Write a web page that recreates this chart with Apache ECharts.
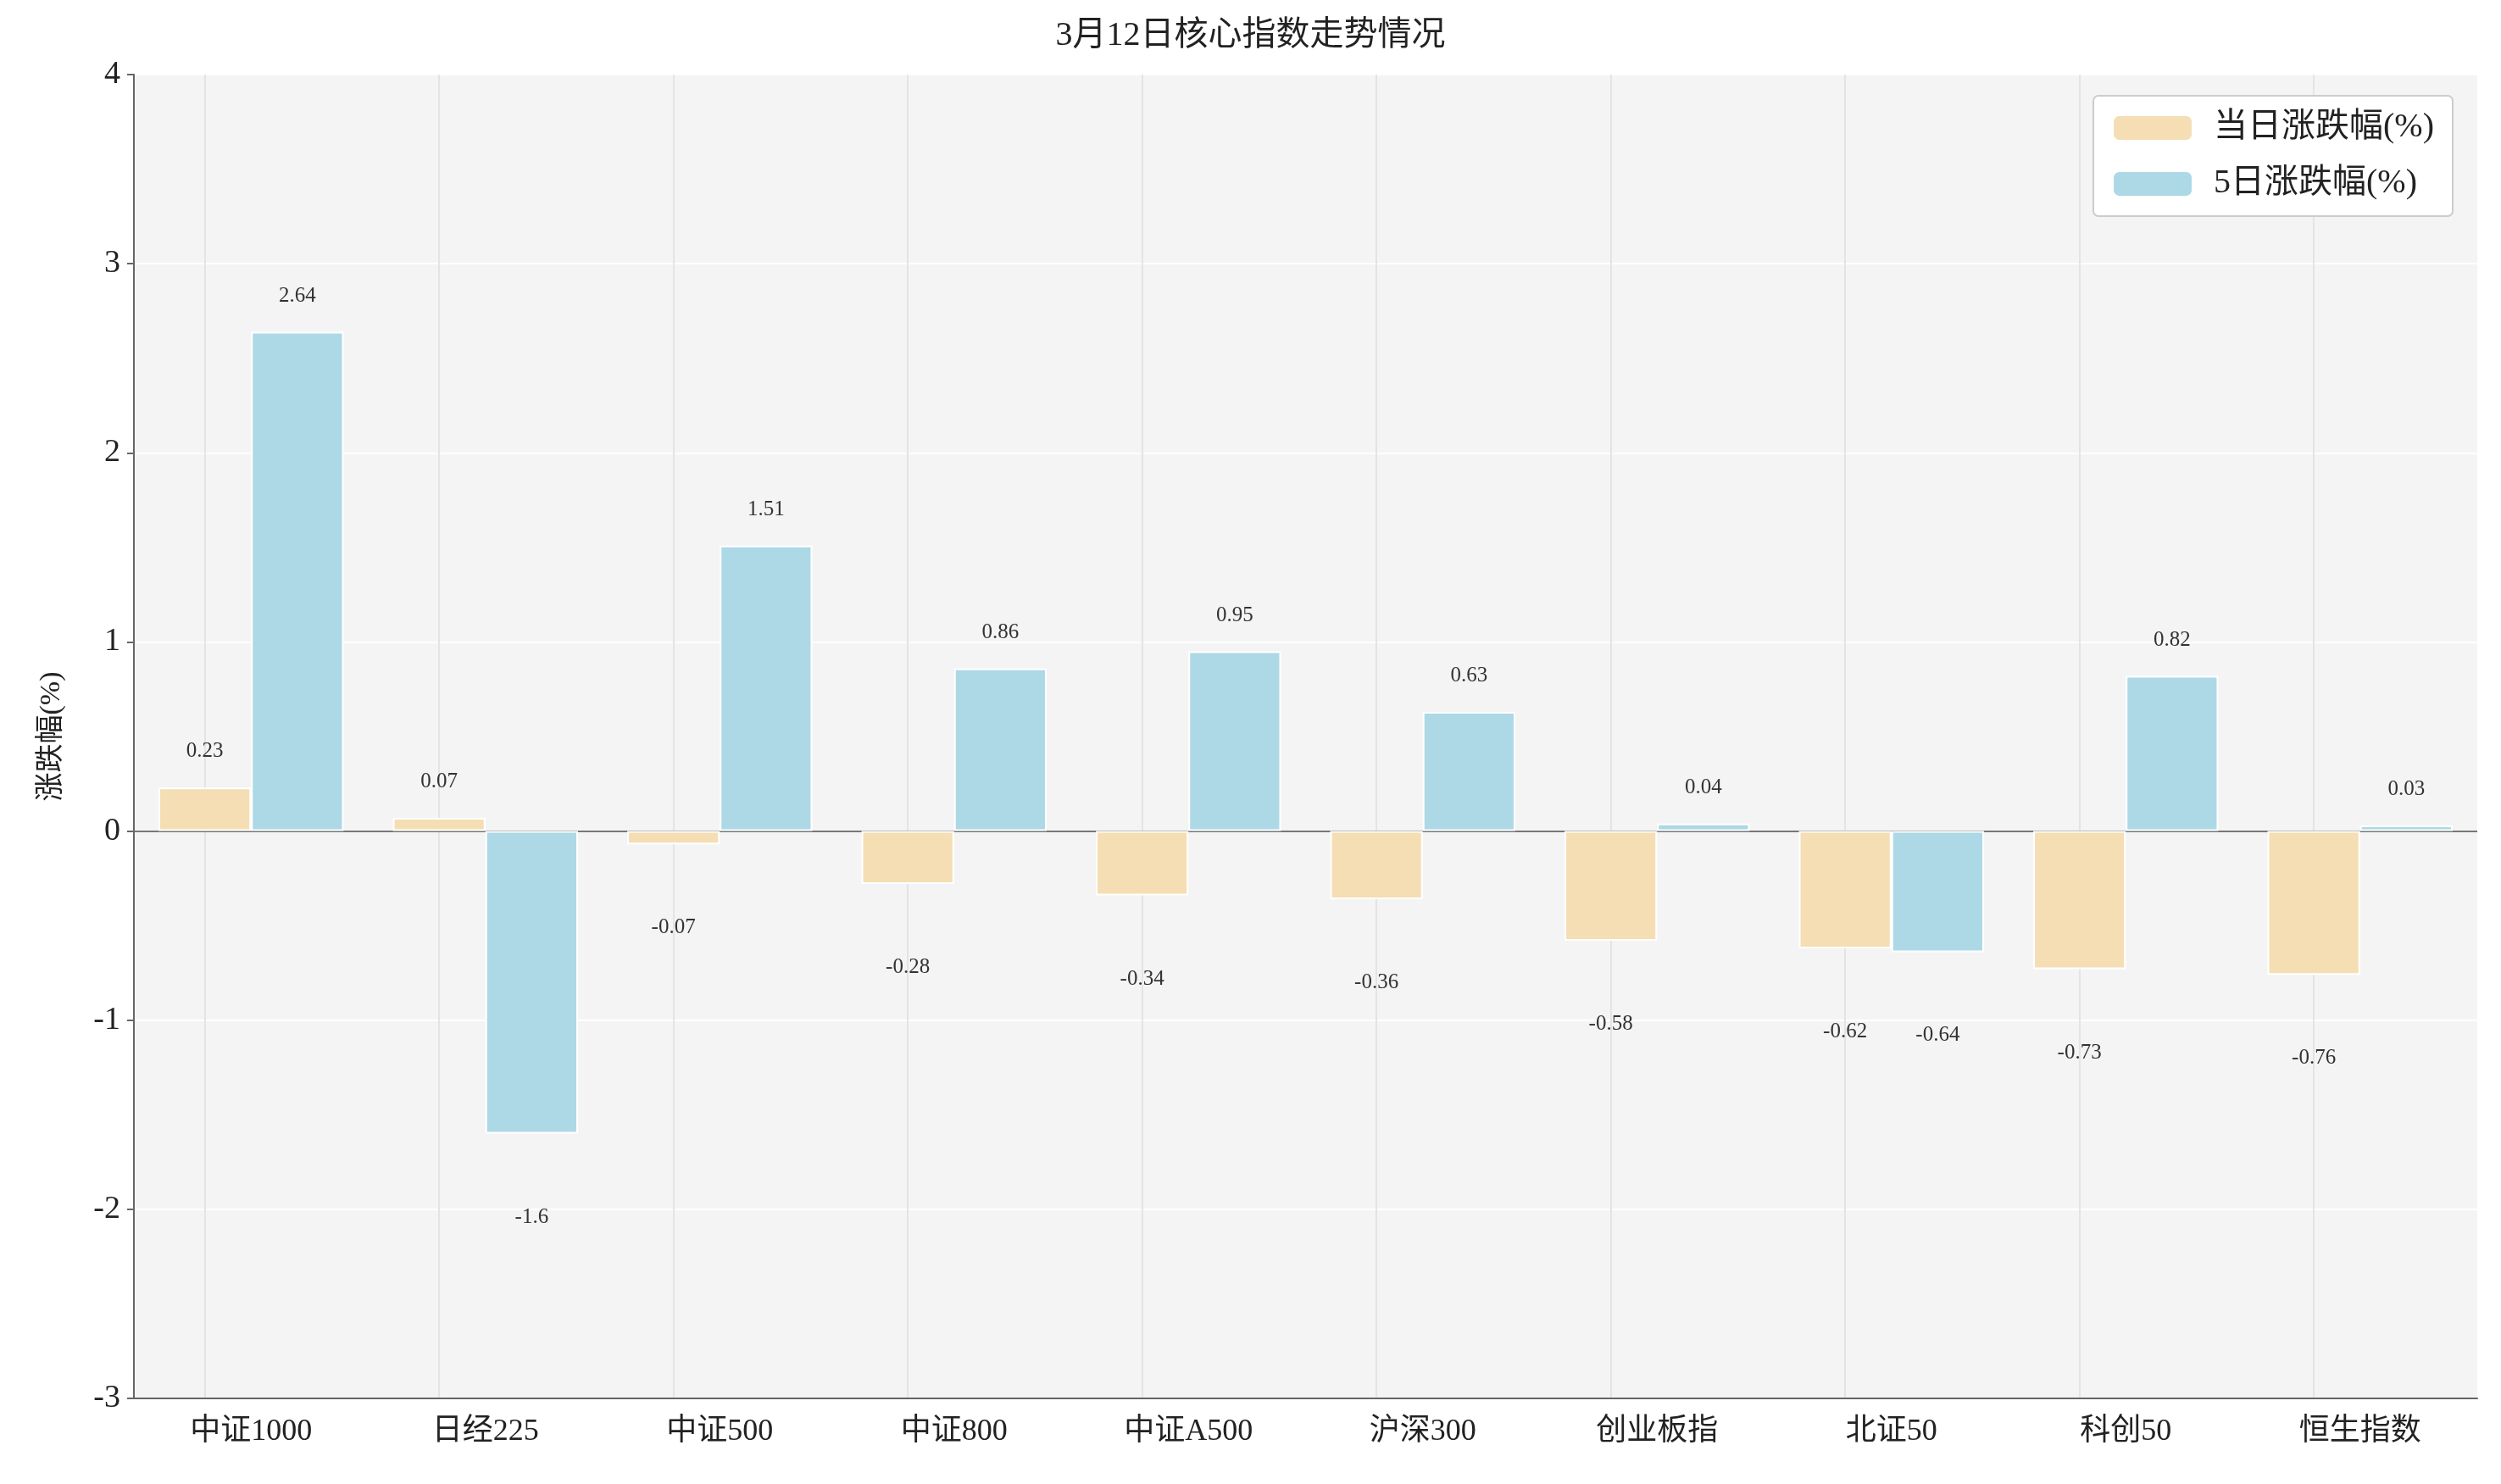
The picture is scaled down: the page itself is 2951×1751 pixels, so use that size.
<!DOCTYPE html>
<html><head><meta charset="utf-8">
<script src="https://cdn.jsdelivr.net/npm/echarts@6/dist/echarts.min.js"></script>
<style>html,body{margin:0;padding:0;background:#fff}#main{width:2951px;height:1751px}</style>
</head><body><div id="main"></div>
<script>
var categories = ['中证1000', '日经225', '中证500', '中证800', '中证A500', '沪深300', '创业板指', '北证50', '科创50', '恒生指数'];
var dayChange = [0.23, 0.07, -0.07, -0.28, -0.34, -0.36, -0.58, -0.62, -0.73, -0.76];
var fiveDayChange = [2.64, -1.6, 1.51, 0.86, 0.95, 0.63, 0.04, -0.64, 0.82, 0.03];
var yTicks = { min: -3, max: 4, interval: 1 };

var font = "'Liberation Serif', 'Noto Sans CJK SC', serif";
var myChart = echarts.init(document.getElementById('main'));

function labelOf(v) {
    return {
        show: true,
        position: v >= 0 ? 'top' : 'bottom',
        distance: v >= 0 ? 30 : 86,
        fontSize: 25, color: '#333', fontFamily: font,
        formatter: function (p) { return p.value; }
    };
}
function build(vals) {
    return vals.map(function (v) { return { value: v, label: labelOf(v) }; });
}

option = {
    backgroundColor: '#ffffff',
    textStyle: { fontFamily: font },
    title: {
        text: '3月12日核心指数走势情况',
        left: 'center', top: 18,
        textStyle: { fontSize: 40, fontWeight: 'normal', color: '#222', fontFamily: font }
    },
    legend: {
        right: 57, top: 113,
        orient: 'vertical',
        itemWidth: 94, itemHeight: 30, itemGap: 26,
        padding: [18, 22, 18, 22],
        backgroundColor: '#ffffff',
        borderColor: '#cccccc', borderWidth: 2, borderRadius: 6,
        textStyle: { fontSize: 40, color: '#222', fontFamily: font, padding: [0, 0, 0, 20] },
        data: ['当日涨跌幅(%)', '5日涨跌幅(%)']
    },
    grid: { left: 158, right: 28, top: 88, bottom: 101, backgroundColor: '#f4f4f4', show: true, borderWidth: 0 },
    xAxis: [{
        type: 'category',
        data: categories,
        axisLine: { onZero: false, lineStyle: { color: '#666', width: 2 } },
        axisTick: { show: false },
        axisLabel: { fontSize: 36, color: '#222', margin: 22, fontFamily: font },
        splitLine: { show: false }
    }],
    yAxis: [{
        type: 'value',
        min: yTicks.min, max: yTicks.max, interval: yTicks.interval,
        name: '涨跌幅(%)',
        nameLocation: 'middle', nameGap: 80,
        nameTextStyle: { fontSize: 34, color: '#222', fontFamily: font },
        axisLine: { show: true, lineStyle: { color: '#666', width: 2 } },
        axisTick: { show: true, length: 8, lineStyle: { color: '#666', width: 2 } },
        axisLabel: { fontSize: 38, color: '#222', fontFamily: font, margin: 16 },
        splitLine: { show: true, lineStyle: { color: '#ffffff', width: 2 } }
    }],
    series: [{
        name: '当日涨跌幅(%)',
        type: 'bar',
        barWidth: '39.5%',
        barGap: '0%',
        itemStyle: { color: '#f5deb3', borderColor: '#ffffff', borderWidth: 2 },
        data: build(dayChange),
        markLine: {
            silent: true, symbol: 'none', label: { show: false },
            z: 0,
            data: categories.map(function (c) {
                return { xAxis: c, lineStyle: { color: '#e4e4e4', width: 2, type: 'solid' } };
            }).concat([{ yAxis: 0, lineStyle: { color: '#777', width: 2, type: 'solid' } }])
        }
    }, {
        name: '5日涨跌幅(%)',
        type: 'bar',
        barWidth: '39.5%',
        itemStyle: { color: '#add8e6', borderColor: '#ffffff', borderWidth: 2 },
        data: build(fiveDayChange)
    }]
};
myChart.setOption(option);
</script>
</body></html>
